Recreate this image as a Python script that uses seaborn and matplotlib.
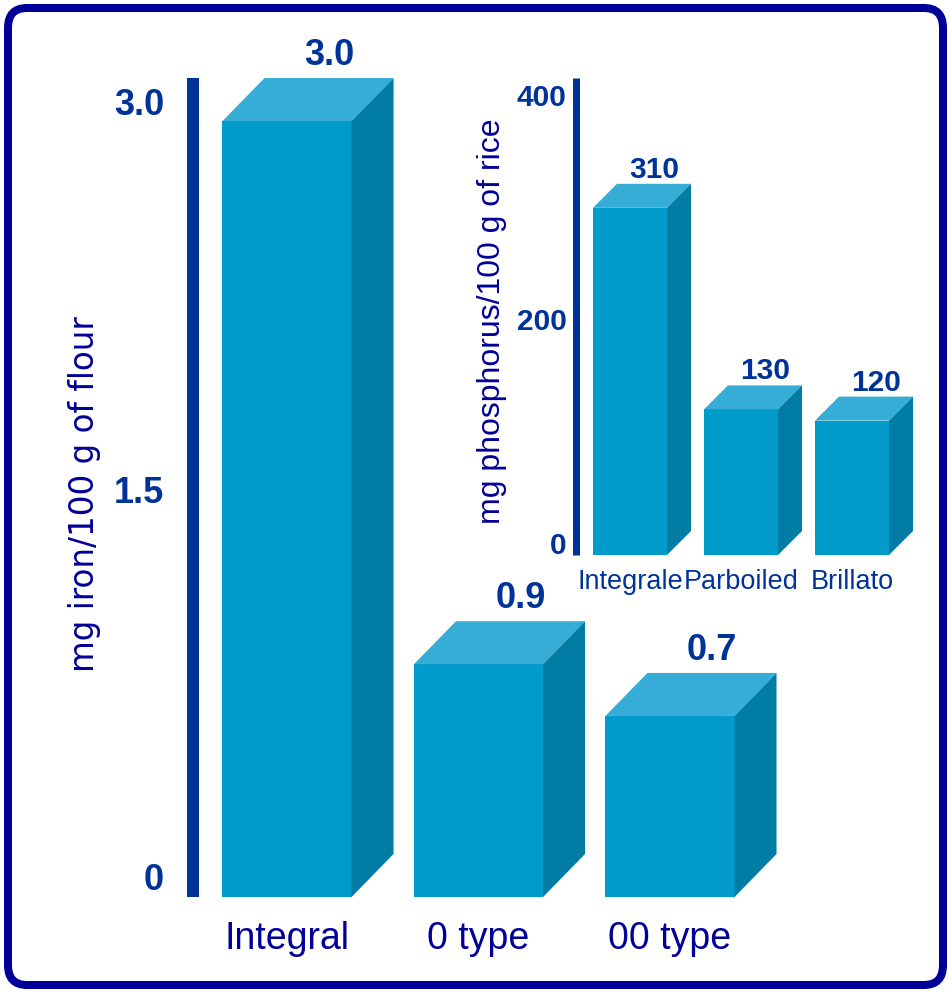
import matplotlib
matplotlib.use("Agg")
import matplotlib.pyplot as plt
from matplotlib.patches import Polygon, FancyBboxPatch
from matplotlib.transforms import ScaledTranslation
import pandas as pd
import seaborn as sns

# Iron content of flours (main chart)
flour_types = ["Integral", "0 type", "00 type"]
iron_mg = [3.0, 0.9, 0.7]
iron_ticks = [0, 1.5, 3.0]
iron_tick_labels = ["0", "1.5", "3.0"]

# Phosphorus content of rice (inset chart)
rice_types = ["Integrale", "Parboiled", "Brillato"]
phosphorus_mg = [310, 130, 120]
phos_ticks = [0, 200, 400]
phos_tick_labels = ["0", "200", "400"]

FRONT = "#009acb"
TOP = "#35add6"
SIDE = "#007ca5"
AXIS_BLUE = "#003399"
TEXT_NAVY = "#000099"

W, H, DPI = 951, 993, 100
sns.set_style("white")
plt.rcParams["font.family"] = ["Liberation Sans", "DejaVu Sans"]

fig = plt.figure(figsize=(W / DPI, H / DPI), dpi=DPI)
fig.patch.set_facecolor("white")


def px_axes(left, right, top, bottom):
    return fig.add_axes([left / W, 1 - bottom / H, (right - left) / W, (bottom - top) / H])


def px_to_pt(px):
    return px * 72.0 / DPI


def extrude(ax, dx_px, dy_px):
    """Add top and side faces to each bar so it reads as a block."""
    bb = ax.get_window_extent()
    x0, x1 = ax.get_xlim()
    y0, y1 = ax.get_ylim()
    ddx = dx_px * (x1 - x0) / bb.width
    ddy = dy_px * (y1 - y0) / bb.height
    for p in list(ax.patches):
        x, y, w, h = p.get_x(), p.get_y(), p.get_width(), p.get_height()
        top = Polygon([(x, y + h), (x + ddx, y + h + ddy), (x + w + ddx, y + h + ddy), (x + w, y + h)],
                      closed=True, facecolor=TOP, edgecolor="none", clip_on=False)
        side = Polygon([(x + w, y), (x + w, y + h), (x + w + ddx, y + h + ddy), (x + w + ddx, y + ddy)],
                       closed=True, facecolor=SIDE, edgecolor="none", clip_on=False)
        ax.add_patch(top)
        ax.add_patch(side)


def style_axis(ax, ticks, labels, spine_top, spine_px, tick_size, tick_pad_px, tick_lift_px,
               cat_size, cat_pad_px, cat_color):
    for s in ("top", "right", "bottom"):
        ax.spines[s].set_visible(False)
    sp = ax.spines["left"]
    sp.set_linewidth(px_to_pt(spine_px))
    sp.set_color(AXIS_BLUE)
    sp.set_capstyle("butt")
    sp.set_bounds(0, spine_top)
    ax.set_yticks(ticks, labels)
    ax.tick_params(axis="y", length=0, pad=px_to_pt(tick_pad_px), labelsize=tick_size,
                   labelcolor=AXIS_BLUE)
    ax.tick_params(axis="x", length=0, pad=px_to_pt(cat_pad_px), labelsize=cat_size,
                   labelcolor=cat_color)
    lift = ScaledTranslation(0, tick_lift_px / DPI, fig.dpi_scale_trans)
    for t in ax.yaxis.get_major_ticks():
        t.label1.set_fontweight("bold")
        t.label1.set_transform(t.label1.get_transform() + lift)
    ax.set_xlabel("")
    ax.grid(False)
    ax.patch.set_alpha(0)


# ---- main chart: iron in flour ----
flour_df = pd.DataFrame({"flour": flour_types, "iron": iron_mg})
ax = px_axes(193, 800, 30, 897)
sns.barplot(data=flour_df, x="flour", y="iron", ax=ax, color=FRONT, saturation=1,
            width=0.674, edgecolor="none", linewidth=0)
ax.set_xlim(-0.491, 2.679)
ax.set_ylim(0, 3.352)
style_axis(ax, iron_ticks, iron_tick_labels, spine_top=3.166, spine_px=12, tick_size=26,
           tick_pad_px=29, tick_lift_px=20, cat_size=27, cat_pad_px=24, cat_color=TEXT_NAVY)
ax.set_ylabel("mg iron/100 g of flour", fontsize=23.5, color=TEXT_NAVY, family=["DejaVu Sans"])
ax.yaxis.set_label_coords(-0.152, 0.465)
extrude(ax, 42, 43)
for i, v in enumerate(iron_mg):
    ax.annotate(f"{v:.1f}", xy=(i, v), xytext=(px_to_pt(42), px_to_pt(43 + 13)),
                textcoords="offset points", ha="center", va="baseline", fontsize=26,
                fontweight="bold", color=AXIS_BLUE, annotation_clip=False)

# ---- inset chart: phosphorus in rice ----
rice_df = pd.DataFrame({"rice": rice_types, "phosphorus": phosphorus_mg})
ax2 = px_axes(575.5, 940, 60, 555)
sns.barplot(data=rice_df, x="rice", y="phosphorus", ax=ax2, color=FRONT, saturation=1,
            width=0.667, edgecolor="none", linewidth=0)
ax2.set_xlim(-0.491, 2.793)
ax2.set_ylim(0, 442)
style_axis(ax2, phos_ticks, phos_tick_labels, spine_top=426, spine_px=7, tick_size=21.5,
           tick_pad_px=9, tick_lift_px=12, cat_size=19.5, cat_pad_px=14, cat_color=AXIS_BLUE)
ax2.set_ylabel("mg phosphorus/100 g of rice", fontsize=23, color=TEXT_NAVY)
ax2.yaxis.set_label_coords(-0.188, 0.473)
extrude(ax2, 24, 24)
for i, v in enumerate(phosphorus_mg):
    ax2.annotate(f"{v:d}", xy=(i, v), xytext=(px_to_pt(24), px_to_pt(24 + 6)),
                 textcoords="offset points", ha="center", va="baseline", fontsize=21.5,
                 fontweight="bold", color=AXIS_BLUE, annotation_clip=False)

# ---- rounded frame around the whole figure ----
frame = FancyBboxPatch((8 / W, 8 / H), (W - 16) / W, (H - 16) / H,
                       boxstyle="round,pad=0,rounding_size=0.02",
                       transform=fig.transFigure, facecolor="none",
                       edgecolor=TEXT_NAVY, linewidth=px_to_pt(8), zorder=10)
fig.add_artist(frame)

fig.savefig("out.png", dpi=DPI, facecolor="white")
